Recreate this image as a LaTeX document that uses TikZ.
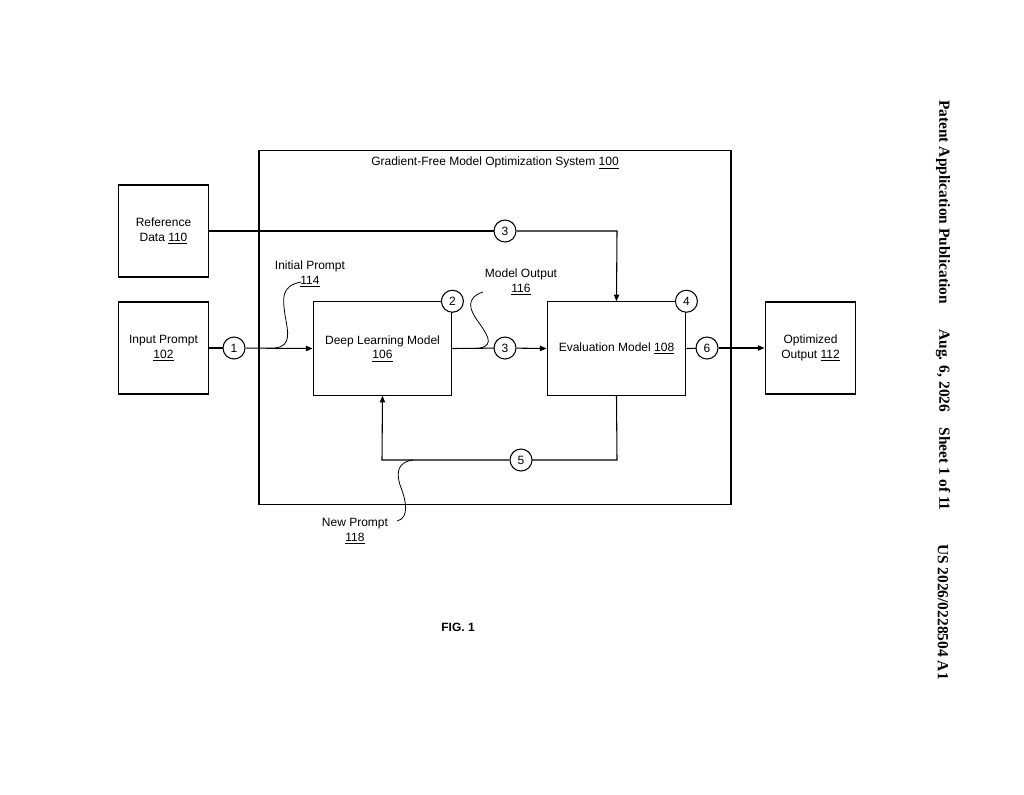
\documentclass[tikz,border=0pt]{standalone}
\usepackage{fontspec}
\setmainfont{Liberation Sans}
\newfontfamily\serifb{Liberation Serif}
\usetikzlibrary{arrows.meta}
\begin{document}
\begin{tikzpicture}[x=0.75pt,y=-0.75pt,
  box/.style={draw,line width=0.9pt,inner sep=0pt},
  num/.style={draw,line width=0.8pt,circle,fill=white,minimum size=16.5pt,inner sep=0pt,font=\fontsize{9}{10}\selectfont},
  lbl/.style={font=\fontsize{9}{11}\selectfont,align=center},
  arr/.style={line width=0.8pt,-{Triangle[length=5pt,width=4pt]}},
  ln/.style={line width=0.8pt},
  lead/.style={semithick}]
\useasboundingbox (0,0) rectangle (1024,794);
\node[box,minimum width=354pt,minimum height=266pt] (sys) at (495,327.5) {};
\node[lbl] (systitle) at (495,163) {Gradient-Free Model Optimization System \underline{100}};
\node[box,minimum width=68pt,minimum height=69pt,lbl] (ref) at (163.5,231) {Reference\\Data \underline{110}};
\node[box,minimum width=68pt,minimum height=69pt,lbl] (inp) at (163.5,348) {Input Prompt\\\underline{102}};
\node[box,minimum width=104pt,minimum height=70pt,lbl] (dlm) at (382.5,348.5) {Deep Learning Model\\\underline{106}};
\node[box,minimum width=104pt,minimum height=70pt,lbl] (eval) at (616.5,348.5) {Evaluation Model \underline{108}};
\node[box,minimum width=68pt,minimum height=69pt,lbl] (opt) at (810.5,348) {Optimized\\Output \underline{112}};
\coordinate (c3tcorner) at (617,231);
\coordinate (fbr) at (617,460);
\coordinate (fbl) at (382,460);
% connectors
\draw[ln] (inp.east) -- (234,348) node[num] (n1) {1};
\draw[arr] (n1) -- (dlm.west);
\draw[ln] (dlm.east) -- (505,348) node[num] (n3) {3};
\draw[arr] (n3) -- (eval.west);
\draw[ln] (eval.east) -- (707,348) node[num] (n6) {6};
\draw[arr] (n6) -- (opt.west);
\draw[ln] (ref.east) -- (505,231) node[num] (n3t) {3};
\draw[arr] (n3t) -- (c3tcorner) -- (eval.north);
\draw[ln] (eval.south) -- (fbr) -- (521,460) node[num] (n5) {5};
\draw[arr] (n5) -- (fbl) -- (dlm.south);
\node[num] (n2) at (dlm.north east) {2};
\node[num] (n4) at (eval.north east) {4};
% leaders
\node[lbl] (l114) at (310,274) {Initial Prompt\\\underline{114}};
\draw[lead] (301,282) .. controls (280,286) and (283,300) .. (285,315) .. controls (288,332) and (292,346) .. (275,348);
\node[lbl] (l116) at (521,282) {Model Output\\\underline{116}};
\draw[lead] (483,292) .. controls (465,298) and (470,310) .. (477,320) .. controls (487,334) and (495,345) .. (480,348);
\node[lbl] (l118) at (355,531) {New Prompt\\\underline{118}};
\draw[lead] (413,460) .. controls (398,462) and (396,472) .. (400,485) .. controls (406,500) and (410,518) .. (397,521);
\node[font=\bfseries\fontsize{9}{11}\selectfont] (fig) at (458,627) {FIG. 1};
% header
\begin{scope}[every node/.style={rotate=-90,font=\serifb\bfseries\fontsize{11.6}{13}\selectfont}]
\node (h1) at (943,202) {Patent Application Publication};
\node (h2) at (943,420) {Aug. 6, 2026\quad Sheet 1 of 11};
\node (h3) at (943,612) {US 2026/0228504 A1};
\end{scope}
\end{tikzpicture}
\end{document}
